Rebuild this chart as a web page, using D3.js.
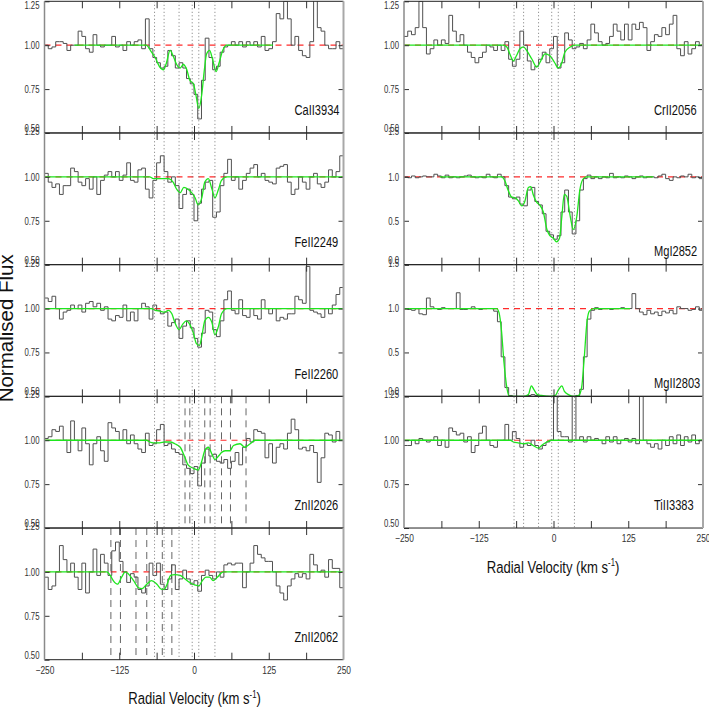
<!DOCTYPE html>
<html><head><meta charset="utf-8">
<script src="https://cdn.jsdelivr.net/npm/d3@7"></script>
<style>body{margin:0;background:#fff}</style>
</head><body>
<svg id="chart" width="709" height="708"></svg>
<script>
// ---------------- data ----------------
const velocityDomain = [-250, 250];
const velocityTicks = [-187.5, -125, -62.5, 0, 62.5, 125, 187.5];
const velocityLabels = [-250, -125, 0, 125, 250];
const componentVelocities = [-66, -50, -25, -3, 8, 35];
const znII2026BlendVelocities = [-15, -7, 18, 27, 46, 61, 87];
const znII2062BlendVelocities = [-139, -123, -97, -79, -53, -37];
const fluxRangeNarrow = [0.5, 1.25];
const fluxTicksNarrow = [0.5, 0.75, 1.0, 1.25];
const fluxRangeWide = [0, 1.5];
const fluxTicksWide = [0, 0.5, 1.0, 1.5];

const caII3934Flux = [1.0,0.98,0.99,1.02,1.02,1.01,0.97,1.0,1.0,1.08,
 1.05,0.98,0.96,1.06,1.0,0.99,1.0,1.0,1.05,0.99,
 1.0,0.97,1.02,1.0,1.02,1.03,0.98,1.15,0.98,0.93,
 0.9,0.87,0.88,0.97,0.94,0.87,0.9,0.87,0.81,0.78,
 0.72,0.58,0.8,1.04,0.93,0.86,0.88,0.96,0.99,1.0,
 1.02,1.0,1.02,0.99,1.02,1.0,1.02,0.99,1.05,0.97,
 0.98,1.02,1.18,1.15,1.25,1.15,1.0,1.05,0.97,0.94,
 0.93,1.02,1.3,1.1,1.08,1.0,0.98,0.98,1.02,0.98];
const caII3934Fit = [[-200,1],[-80,1],[-71,0.96],[-65,0.93],[-58,0.88],[-51,0.86],[-46,0.9],[-40,0.97],[-35,0.94],[-29,0.89],[-23,0.87],[-18,0.89],[-12,0.86],[-7,0.8],[-1,0.78],[3,0.72],[8,0.64],[13,0.72],[17,0.85],[21,0.95],[26,0.97],[31,0.92],[37,0.85],[42,0.9],[48,0.97],[55,1.0],[132,1.0]];

const feII2249Flux = [1.02,0.97,0.94,0.96,0.9,0.95,0.95,1.05,1.03,0.97,
 0.95,0.99,0.93,1.0,0.9,0.98,1.01,1.03,1.0,1.03,
 0.98,1.01,1.08,0.98,0.97,1.04,1.05,0.93,0.88,0.98,
 1.08,1.12,1.03,0.97,1.0,0.95,0.82,0.9,0.93,0.9,
 0.75,0.85,0.93,0.97,0.98,0.77,0.8,0.95,1.02,1.1,
 0.98,1.0,0.93,0.98,1.02,1.05,1.07,1.0,1.02,0.98,
 0.97,0.96,1.05,1.06,1.07,0.97,0.9,0.93,1.0,0.97,
 0.93,1.0,1.02,0.96,0.94,0.97,1.04,1.0,1.03,1.12];
const feII2249Fit = [[-250,1],[-74,1],[-68,0.99],[-60,0.99],[-51,0.99],[-43,0.99],[-35,0.97],[-29,0.93],[-23,0.91],[-17,0.94],[-10,0.93],[-4,0.91],[2,0.88],[7,0.84],[13,0.88],[18,0.97],[24,0.99],[30,0.93],[35,0.88],[41,0.93],[46,0.98],[55,1],[250,1]];

const feII2260Flux = [1.06,1.04,1.07,1.0,0.94,0.98,0.99,1.02,1.0,1.02,
 0.98,1.03,1.04,1.01,1.03,0.99,1.01,0.94,0.93,0.96,
 0.95,1.02,0.93,0.98,0.93,1.0,1.03,1.01,0.94,1.02,
 0.99,0.97,0.98,0.9,0.92,0.94,0.83,0.9,0.93,0.89,
 0.83,0.78,0.86,0.99,0.98,0.88,0.84,0.93,1.05,1.1,
 0.99,0.97,1.05,0.96,0.95,1.0,0.96,0.94,1.05,1.0,
 0.97,1.0,0.93,0.95,0.94,0.97,0.97,1.07,1.05,1.03,
 1.24,0.99,0.98,0.97,0.95,1.0,0.97,1.02,1.08,1.12];
const feII2260Fit = [[-250,1],[-71,1],[-65,0.99],[-57,0.985],[-49,0.98],[-43,0.99],[-37,0.97],[-32,0.92],[-25,0.88],[-19,0.91],[-13,0.93],[-7,0.91],[-1,0.86],[4,0.8],[9,0.79],[13,0.84],[18,0.93],[24,0.95],[30,0.92],[35,0.85],[41,0.9],[46,0.97],[55,1],[250,1]];

const znII2026Flux = [1.01,1.02,1.06,1.05,1.08,1.0,0.93,1.11,1.0,0.94,
 1.07,0.98,0.86,0.98,1.02,0.94,0.88,1.1,1.07,1.05,
 1.0,1.06,0.98,1.03,0.98,0.95,0.93,1.04,0.97,0.98,
 1.06,1.09,0.97,0.98,0.95,0.93,0.92,0.86,0.84,0.81,
 0.85,0.74,0.87,0.95,0.91,0.92,0.88,0.87,0.89,0.84,
 0.88,0.93,0.86,0.96,1.01,0.99,1.06,1.05,1.04,0.9,
 0.98,0.87,0.96,0.98,0.95,1.04,1.12,1.06,0.95,0.96,
 0.94,0.97,0.93,0.76,0.9,1.04,1.03,0.99,1.05,1.0];
const znII2026Fit = [[-250,1],[-79,1],[-74,0.99],[-68,0.985],[-57,0.985],[-49,0.99],[-40,0.99],[-32,0.98],[-23,0.96],[-15,0.9],[-10,0.86],[-1,0.84],[7,0.83],[13,0.88],[18,0.94],[24,0.96],[30,0.92],[35,0.89],[41,0.91],[46,0.93],[52,0.94],[60,0.94],[66,0.97],[77,0.98],[85,0.96],[94,0.98],[102,1],[250,1]];

const znII2062Flux = [0.97,0.9,0.92,1.0,1.15,1.07,1.0,1.05,0.97,0.9,
 1.05,0.88,1.0,1.13,0.98,1.1,1.05,0.98,1.12,1.17,
 1.06,1.0,0.94,0.99,0.97,0.9,0.88,0.92,1.05,0.98,
 1.05,0.93,0.9,0.96,1.04,0.9,0.96,1.01,0.96,0.93,
 0.95,0.89,0.98,1.01,0.98,0.96,1.0,0.97,1.04,1.05,
 1.04,1.05,1.05,0.91,1.0,1.05,1.15,1.1,1.08,1.06,
 1.06,1.0,0.92,0.88,0.84,0.92,0.96,0.99,0.97,0.99,
 0.96,1.1,1.04,1.0,1.01,0.97,1.07,1.02,1.02,0.91];
const znII2062Fit = [[-250,1],[-146,1],[-140,0.98],[-135,0.95],[-128,0.93],[-121,0.97],[-115,1.0],[-110,0.99],[-101,0.95],[-93,0.91],[-87,0.905],[-79,0.93],[-71,0.95],[-62,0.93],[-54,0.9],[-50,0.9],[-45,0.93],[-39,0.98],[-32,0.985],[-23,0.98],[-15,0.96],[-7,0.94],[2,0.925],[8,0.92],[14,0.95],[20,0.97],[26,0.97],[32,0.95],[39,0.97],[49,1],[250,1]];

const crII2056Flux = [1.05,1.08,1.06,1.1,1.25,1.1,0.95,0.98,1.03,1.0,
 1.03,1.01,1.17,1.08,1.02,1.06,1.0,0.96,0.93,0.9,
 0.93,0.96,1.0,0.99,0.97,1.0,0.97,1.02,0.92,0.88,
 0.92,1.08,1.0,0.91,0.86,0.88,0.92,0.96,0.9,0.98,
 1.05,0.87,0.9,1.07,1.03,0.98,0.99,1.01,0.98,1.03,
 1.12,1.07,1.02,1.0,1.01,1.05,1.12,1.08,1.03,1.12,
 1.03,1.12,1.09,1.13,1.1,0.97,1.02,1.06,1.05,1.1,
 1.06,1.12,1.17,0.98,0.94,1.02,0.95,0.98,1.02,1.0];
const crII2056Fit = [[-250,1],[-84,1],[-78,0.99],[-73,0.95],[-67,0.91],[-62,0.94],[-56,0.98],[-50,0.99],[-45,0.97],[-36,0.92],[-28,0.875],[-23,0.9],[-14,0.95],[-6,0.94],[2,0.9],[8,0.87],[14,0.9],[19,0.96],[28,0.99],[36,1],[250,1]];

const mgI2852Flux = [1.0,0.99,1.01,0.99,1.0,1.01,1.0,1.0,1.03,
 1.01,0.99,1.02,0.99,1.0,0.99,1.0,1.01,1.02,1.0,0.99,1.0,0.99,1.03,1.0,0.99,1.03,1.0,
 0.9,0.77,0.75,0.77,0.69,0.67,0.85,0.88,0.72,0.68,0.58,0.38,0.34,0.29,0.33,0.6,0.85,0.6,0.35,0.5,0.85,0.98,1.02,0.98,1.0,0.98,1.0,0.99,1.04,0.99,
 1.0,0.99,1.01,1.0,0.98,1.0,1.01,0.99,1.0,1.0,0.99,1.01,1.03,0.98,0.96,1.0,0.99,1.01,1.0,1.03,0.99,1.0,0.98];
const mgI2852Fit = [[-190,1],[-87,1],[-81,0.95],[-76,0.85],[-70,0.77],[-64,0.76],[-59,0.73],[-53,0.67],[-48,0.72],[-42,0.88],[-38,0.89],[-34,0.8],[-28,0.71],[-23,0.68],[-17,0.6],[-11,0.4],[-6,0.33],[0,0.3],[5,0.26],[10,0.3],[14,0.55],[18,0.8],[22,0.78],[28,0.55],[33,0.4],[39,0.55],[44,0.85],[49,0.97],[55,1],[167,1]];

const mgII2803Flux = [1.0,0.99,0.98,1.0,0.94,0.93,1.12,1.02,1.0,0.99,1.01,1.0,1.0,1.0,1.18,0.99,0.99,1.0,1.02,1.0,0.99,1.0,1.0,1.0,0.97,0.85,0.45,0.1,0.01,
 0,0,0,0,0.01,0.02,0.01,0,0,0,0,0,0,0,0,0,0,0.01,
 0.08,0.45,0.88,0.98,1.01,0.99,1.0,1.0,0.99,1.0,1.0,1.01,1.0,1.0,1.17,1.0,0.96,0.93,0.98,0.94,0.96,0.92,0.97,0.95,0.98,0.94,1.02,1.0,1.0,0.98,0.99,1.02,0.98];
const mgII2803Fit = [[-250,1],[-95,1],[-91,0.95],[-87,0.75],[-83,0.4],[-78,0.1],[-74,0.0],[-67,0],[-50,0],[-42,0.02],[-37,0.12],[-33,0.08],[-27,0.02],[-20,0.01],[-6,0],[3,0.01],[8,0.07],[14,0.12],[18,0.06],[25,0.02],[33,0],[42,0.01],[47,0.1],[51,0.4],[56,0.85],[60,0.97],[67,1],[128,1]];

const tiII3383Flux = [0.97,0.97,1.0,0.98,1.01,1.0,0.99,1.0,1.02,0.97,
 1.0,0.96,1.07,1.05,1.03,1.04,0.99,1.02,0.93,0.97,
 1.04,1.08,1.0,0.97,0.96,1.0,1.0,1.09,1.0,1.05,
 1.01,0.96,0.98,0.97,1.0,0.97,0.95,0.97,0.99,1.0,
 1.35,1.05,1.02,1.02,0.99,1.35,1.0,1.02,0.99,1.02,
 1.0,1.01,1.0,0.98,1.02,0.99,1.02,0.98,1.0,1.01,
 0.99,1.01,0.98,1.35,1.0,0.98,0.96,0.98,0.95,1.0,
 0.97,1.02,0.98,1.03,0.97,1.02,0.99,1.03,0.98,1.0];
const tiII3383Fit = [[-250,1],[-72,1],[-67,0.99],[-59,0.985],[-50,0.98],[-42,0.985],[-34,0.97],[-25,0.955],[-20,0.97],[-11,0.99],[-3,1],[250,1]];

// ---------------- layout ----------------
const FONT = '"Liberation Sans", Arial, Helvetica, sans-serif';
const PANEL_TOP = 1.3, PANEL_H = 131.68;
const narrow = {range: fluxRangeNarrow, ticks: fluxTicksNarrow, fmt: d3.format(".2f"), labelDy: 114};
const wide = {range: fluxRangeWide, ticks: fluxTicksWide, fmt: d3.format(".1f"), labelDy: 123};
const columns = [
  {x0: 44.5, x1: 343.5, titleX: 194.5, panels: [
    {name: "CaII3934", flux: caII3934Flux, fit: caII3934Fit, ...narrow},
    {name: "FeII2249", flux: feII2249Flux, fit: feII2249Fit, ...narrow},
    {name: "FeII2260", flux: feII2260Flux, fit: feII2260Fit, ...narrow},
    {name: "ZnII2026", flux: znII2026Flux, fit: znII2026Fit, blends: znII2026BlendVelocities, ...narrow},
    {name: "ZnII2062", flux: znII2062Flux, fit: znII2062Fit, blends: znII2062BlendVelocities, ...narrow}
  ]},
  {x0: 404, x1: 703, titleX: 553, panels: [
    {name: "CrII2056", flux: crII2056Flux, fit: crII2056Fit, ...narrow},
    {name: "MgI2852", flux: mgI2852Flux, fit: mgI2852Fit, ...wide},
    {name: "MgII2803", flux: mgII2803Flux, fit: mgII2803Fit, ...wide},
    {name: "TiII3383", flux: tiII3383Flux, fit: tiII3383Fit, ...narrow}
  ]}
];

const svg = d3.select("#chart");
const defs = svg.append("defs");

function condense(sel, ratio) {
  sel.each(function() {
    const L = this.getComputedTextLength();
    if (L > 0) d3.select(this).attr("textLength", L * ratio).attr("lengthAdjust", "spacingAndGlyphs");
  });
}
function styleAxis(g) {
  g.select(".domain").remove();
  g.attr("font-family", FONT).attr("font-size", 10.5).attr("color", "#333");
  g.selectAll("line").attr("stroke-width", 1);
}

let clipCount = 0;
columns.forEach(col => {
  const x = d3.scaleLinear().domain(velocityDomain).range([col.x0, col.x1]);
  const nP = col.panels.length;
  const colBottom = PANEL_TOP + nP * PANEL_H;

  col.panels.forEach((p, pi) => {
    const top = PANEL_TOP + pi * PANEL_H, bottom = top + PANEL_H;
    const y = d3.scaleLinear().domain(p.range).range([bottom, top]);
    const id = "clip" + (clipCount++);
    defs.append("clipPath").attr("id", id).append("rect")
      .attr("x", col.x0).attr("y", top).attr("width", col.x1 - col.x0).attr("height", PANEL_H);
    const g = svg.append("g");
    const plot = g.append("g").attr("clip-path", `url(#${id})`);

    // blended-transition markers (long dashes)
    plot.selectAll("line.blend").data(p.blends || []).join("line")
      .attr("class", "blend")
      .attr("x1", d => x(d)).attr("x2", d => x(d))
      .attr("y1", top).attr("y2", bottom)
      .attr("stroke", "#555").attr("stroke-width", 0.9).attr("stroke-dasharray", "7,5");

    // continuum (red dashed)
    plot.append("line")
      .attr("x1", x(velocityDomain[0])).attr("x2", x(velocityDomain[1]))
      .attr("y1", y(1)).attr("y2", y(1))
      .attr("stroke", "#ff2b2b").attr("stroke-width", 1.2).attr("stroke-dasharray", "6,5");

    // spectrum histogram
    const w = (velocityDomain[1] - velocityDomain[0]) / p.flux.length;
    const pts = p.flux.map((f, i) => [velocityDomain[0] + i * w, f]);
    pts.push([velocityDomain[1], p.flux[p.flux.length - 1]]);
    plot.append("path")
      .attr("d", d3.line().x(d => x(d[0])).y(d => y(d[1])).curve(d3.curveStepAfter)(pts))
      .attr("fill", "none").attr("stroke", "#505050").attr("stroke-width", 1);

    // fitted profile
    plot.append("path")
      .attr("d", d3.line().x(d => x(d[0])).y(d => y(d[1])).curve(d3.curveMonotoneX)(p.fit))
      .attr("fill", "none").attr("stroke", "#1ee61e").attr("stroke-width", 1.3);

    // axes
    const ax = g.append("g").attr("transform", `translate(${col.x0},0)`)
      .call(d3.axisLeft(y).tickValues(p.ticks).tickSize(-5).tickPadding(5).tickFormat(p.fmt));
    styleAxis(ax);
    ax.selectAll(".tick text").attr("transform", d => {
      if (d === p.ticks[p.ticks.length - 1]) return `translate(0,${pi === 0 ? 3.7 : -2})`;
      if (d === p.ticks[0]) return "translate(0,-5)";
      return null;
    });
    condense(ax.selectAll("text"), 0.74);

    const axr = g.append("g").attr("transform", `translate(${col.x1},0)`)
      .call(d3.axisRight(y).tickValues(p.ticks.slice(1, -1)).tickSize(-5).tickFormat(""));
    styleAxis(axr);
    const axb = g.append("g").attr("transform", `translate(0,${bottom})`)
      .call(d3.axisBottom(x).tickValues(velocityTicks).tickSize(-7).tickFormat(""));
    styleAxis(axb);
    const axt = g.append("g").attr("transform", `translate(0,${top})`)
      .call(d3.axisTop(x).tickValues(velocityTicks).tickSize(-7).tickFormat(""));
    styleAxis(axt);

    // frame
    g.append("line").attr("x1", col.x0).attr("x2", col.x1).attr("y1", top).attr("y2", top).attr("stroke", "#222").attr("stroke-width", 1);
    g.append("line").attr("x1", col.x0).attr("x2", col.x1).attr("y1", bottom).attr("y2", bottom).attr("stroke", "#222").attr("stroke-width", 1);
    g.append("line").attr("x1", col.x0).attr("x2", col.x0).attr("y1", top).attr("y2", bottom).attr("stroke", "#8a8a8a").attr("stroke-width", 1.5);
    g.append("line").attr("x1", col.x1).attr("x2", col.x1).attr("y1", top).attr("y2", bottom).attr("stroke", "#a8a8a8").attr("stroke-width", 2);

    // panel label (horizontally condensed like the original narrow font)
    g.append("g").attr("transform", `translate(${col.x0 + 250},${top + p.labelDy}) scale(0.74,1)`)
      .append("text").attr("x", 0).attr("y", 0)
      .attr("font-family", FONT).attr("font-size", 15).attr("fill", "#111").text(p.name);

    // bottom axis labels
    if (pi === nP - 1) {
      const axl = g.append("g").attr("transform", `translate(0,${bottom})`)
        .call(d3.axisBottom(x).tickValues(velocityLabels).tickSize(0).tickPadding(6.8).tickFormat(d3.format("d")));
      styleAxis(axl);
      condense(axl.selectAll("text"), 0.8);
    }
  });

  // component velocity markers (dotted) spanning the whole column
  svg.append("g").selectAll("line").data(componentVelocities).join("line")
    .attr("x1", d => x(d)).attr("x2", d => x(d))
    .attr("y1", PANEL_TOP).attr("y2", colBottom)
    .attr("stroke", "#6a6a6a").attr("stroke-width", 0.9).attr("stroke-dasharray", "1,2.5");

  // x-axis title
  const tg = svg.append("g").attr("transform", `translate(${col.titleX},${colBottom + 44.5}) scale(0.77,1)`);
  const t = tg.append("text").attr("text-anchor", "middle").attr("font-family", FONT).attr("font-size", 17).attr("fill", "#111");
  t.append("tspan").text("Radial Velocity (km s");
  t.append("tspan").attr("font-size", 10).attr("dy", -6.5).text("-1");
  t.append("tspan").attr("dy", 6.5).text(")");
});

// y-axis title
svg.append("text")
  .attr("transform", "translate(12.7,328.3) rotate(-90)")
  .attr("text-anchor", "middle").attr("font-family", FONT).attr("font-size", 20.5).attr("fill", "#111")
  .text("Normalised Flux");
</script>
</body></html>
